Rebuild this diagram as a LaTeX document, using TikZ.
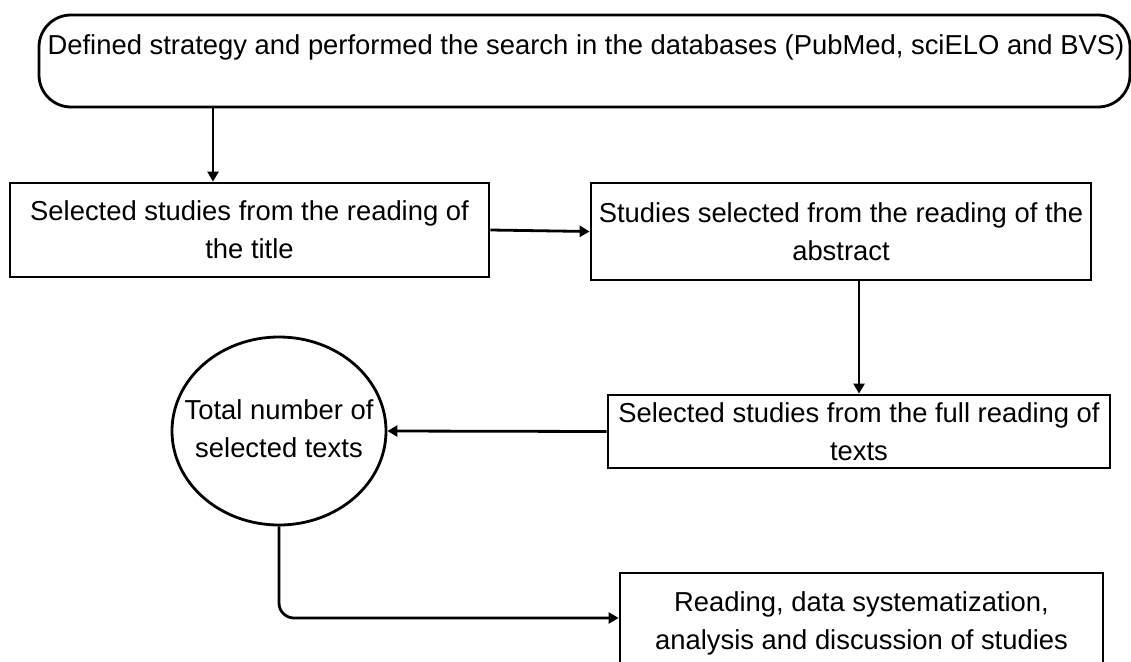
\documentclass[tikz,border=0pt]{standalone}
\usepackage{fontspec}
\setmainfont{Liberation Sans}
\usetikzlibrary{arrows.meta,shapes.geometric}

\tikzset{
  flowline/.style={line width=2.8pt, line join=round},
  arr/.style={flowline, -{Triangle[length=10pt,width=11pt]}},
  stepbox/.style={draw, line width=2.8pt, rectangle, inner sep=0pt, align=center},
  txt/.style={font=\fontsize{27.4}{38}\selectfont}
}

\begin{document}
\begin{tikzpicture}[x=1pt, y=-1pt, txt]
  \clip (0,0) rectangle (1131,661);
  \useasboundingbox (0,0) rectangle (1131,661);

  % search strategy (rounded box, text set along its top)
  \node[stepbox, rounded corners=32pt, minimum width=1091pt, minimum height=92pt]
    (search) at (584.5,61) {};
  \node[inner sep=0pt] (searchtext) at (586,47)
    {Defined strategy and performed the search in the databases (PubMed, sciELO and BVS)};

  % screening stages
  \node[stepbox, minimum width=479pt, minimum height=94pt] (title) at (249.5,230)
    {Selected studies from the reading of\\the title};
  \node[stepbox, minimum width=500pt, minimum height=97pt] (abstract) at (841,231.5)
    {Studies selected from the reading of the\\abstract};
  \node[stepbox, minimum width=502pt, minimum height=73pt] (full) at (859,431.5)
    {Selected studies from the full reading of\\texts};

  % total: ellipse drawn around its text, the text touching its outline
  \node[draw, ellipse, line width=2.8pt, inner sep=0pt,
        minimum width=214pt, minimum height=188pt] (total) at (279,431) {};
  \node[inner sep=0pt, align=center] (totaltext) at (279,429)
    {Total number of\\selected texts};

  \node[stepbox, minimum width=483pt, minimum height=90pt] (reading) at (861.5,618) {};
  \node[inner sep=0pt, align=center] (readingtext) at (861.5,623)
    {Reading, data systematization,\\analysis and discussion of studies};

  % connectors
  \coordinate (drop) at (213,0);
  \draw[arr] (drop |- search.south) -- (drop |- title.north);
  \draw[arr] (title.east) -- (abstract.west);
  \draw[arr] (full.north |- abstract.south) -- (full.north);
  \draw[arr] (full.west) -- (total.east);
  \draw[arr, rounded corners=15pt] (total.south) |- (reading.west);
\end{tikzpicture}
\end{document}
